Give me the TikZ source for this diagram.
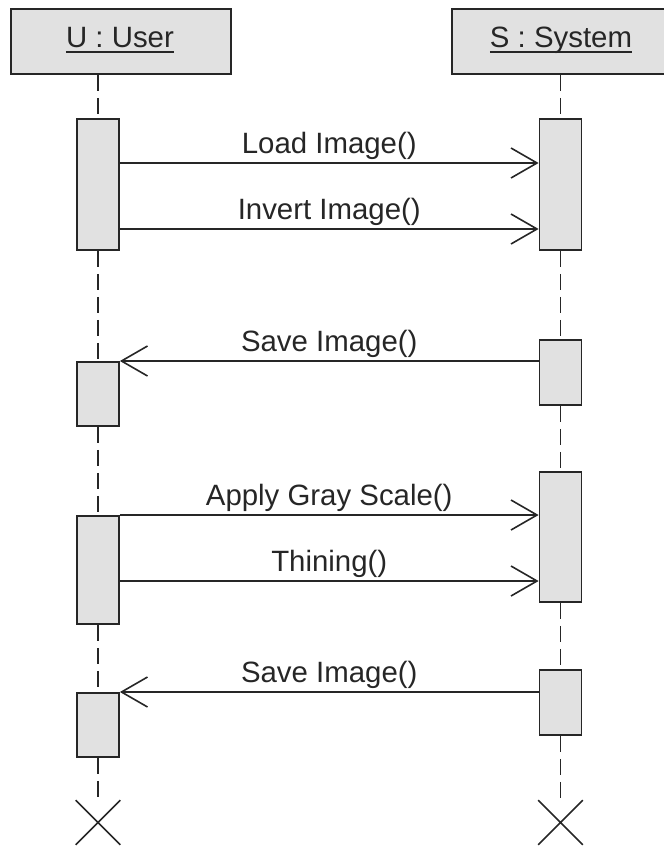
\documentclass[tikz,border=0pt]{standalone}
\usepackage{fontspec}
\setmainfont{Liberation Sans}
\usetikzlibrary{arrows.meta,shapes.misc}
\definecolor{boxfill}{HTML}{E1E1E1}
\definecolor{ink}{HTML}{262626}

\begin{document}
\begin{tikzpicture}[x=1bp,y=-1bp,
  every node/.style={font=\fontsize{29.5}{35}\selectfont, text=ink},
  head/.style={draw=ink, fill=boxfill, line width=1.8bp, minimum width=220bp,
               minimum height=65bp, inner sep=0, anchor=north west},
  actbox/.style={draw=ink, fill=boxfill, line width=1.8bp, minimum width=42bp,
                 inner sep=0, anchor=north},
  title/.style={anchor=base, inner sep=0},
  life/.style={draw=ink, line width=1.6bp, dash pattern=on 16bp off 7bp},
  msg/.style={draw=ink, line width=1.6bp,
              -{Straight Barb[length=26bp,width=30bp]}},
  lbl/.style={anchor=base, inner sep=0, yshift=10bp},
  endmark/.style={draw=ink, line width=1.6bp, cross out, minimum size=43bp, inner sep=0}
]
\useasboundingbox (0,0) rectangle (664,846);
\clip (0,0) rectangle (664,846);

% lifeline heads
\node[head] (uh) at (10,8) {};
\node[head] (sh) at (451,8) {};
\node[title] (ut) at (120,47) {U : User};
\node[title] (st) at (561,47) {S : System};
\draw[ink, line width=1.5bp] ([yshift=-5bp]ut.base west) -- ([yshift=-5bp]ut.base east);
\draw[ink, line width=1.5bp] ([yshift=-5bp]st.base west) -- ([yshift=-5bp]st.base east);

% destruction marks
\node[endmark] (ux) at (98,822.5) {};
\node[endmark] (sx) at (560.5,822.5) {};

% activation bars of the user
\node[actbox, minimum height=131bp] (ua1) at (98,118) {};
\node[actbox, minimum height=64bp]  (ua2) at (98,361) {};
\node[actbox, minimum height=108bp] (ua3) at (98,515) {};
\node[actbox, minimum height=64bp]  (ua4) at (98,692) {};

% activation bars of the system
\node[actbox, minimum height=131bp] (sa1) at (560.5,118) {};
\node[actbox, minimum height=65bp]  (sa2) at (560.5,339) {};
\node[actbox, minimum height=130bp] (sa3) at (560.5,471) {};
\node[actbox, minimum height=65bp]  (sa4) at (560.5,669) {};

% dashed lifelines between the bars
\draw[life] (ua1.north |- uh.south) -- (ua1.north);
\draw[life] (ua1.south) -- (ua2.north);
\draw[life] (ua2.south) -- (ua3.north);
\draw[life] (ua3.south) -- (ua4.north);
\draw[life] (ua4.south) -- (ux.north);
\draw[life] (sa1.north |- sh.south) -- (sa1.north);
\draw[life] (sa1.south) -- (sa2.north);
\draw[life] (sa2.south) -- (sa3.north);
\draw[life] (sa3.south) -- (sa4.north);
\draw[life] (sa4.south) -- (sx.north);

% message levels
\coordinate (m1) at (0,163);
\coordinate (m2) at (0,229);
\coordinate (m3) at (0,361);
\coordinate (m4) at (0,515);
\coordinate (m5) at (0,581);
\coordinate (m6) at (0,692);

% messages
\draw[msg] (ua1.east |- m1) -- node[lbl] {Load Image()} (sa1.west |- m1);
\draw[msg] (ua1.east |- m2) -- node[lbl] {Invert Image()} (sa1.west |- m2);
\draw[msg] (sa2.west |- m3) -- node[lbl] {Save Image()} (ua2.east |- m3);
\draw[msg] (ua3.east |- m4) -- node[lbl] {Apply Gray Scale()} (sa3.west |- m4);
\draw[msg] (ua3.east |- m5) -- node[lbl] {Thining()} (sa3.west |- m5);
\draw[msg] (sa4.west |- m6) -- node[lbl] {Save Image()} (ua4.east |- m6);
\end{tikzpicture}
\end{document}
